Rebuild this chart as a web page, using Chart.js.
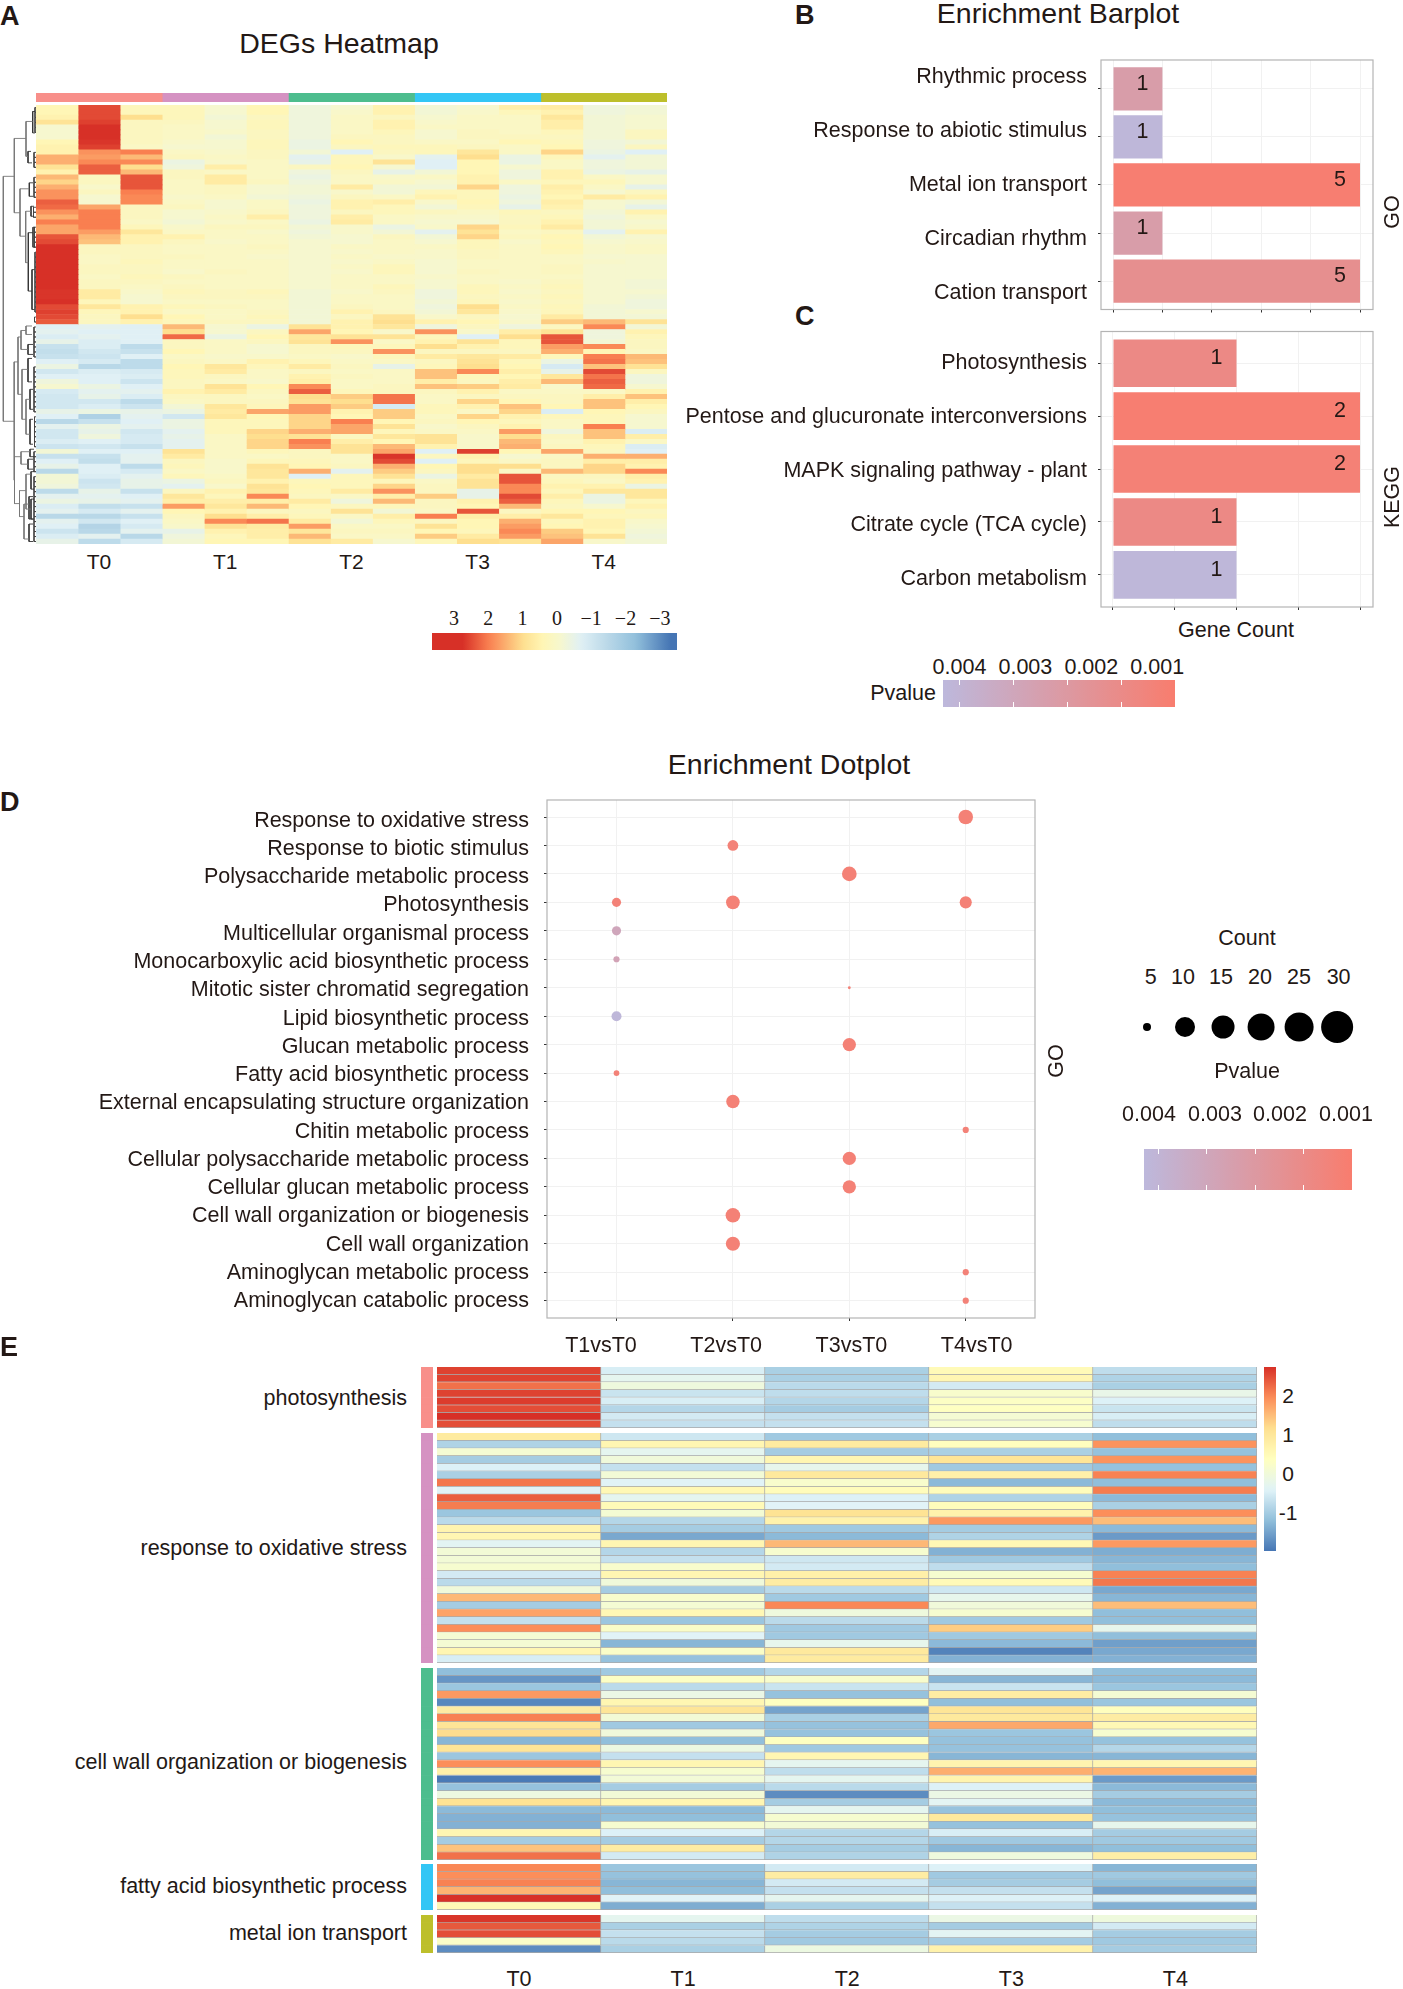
<!DOCTYPE html>
<html>
<head>
<meta charset="utf-8">
<title>DEGs figure</title>
<script src="https://cdn.jsdelivr.net/npm/chart.js@4/dist/chart.umd.min.js"></script>
<style>
html, body { margin: 0; padding: 0; background: #fff; }
#page { position: relative; width: 1403px; height: 1989px; overflow: hidden; }
#page canvas { position: absolute; }
.txt { position: absolute; white-space: nowrap; color: #231815; font-family: "Liberation Sans", sans-serif; }
</style>
</head>
<body>
<div id="page"></div>
<script>
// Panel A: 15 samples, z score per row
const heatTimes = ['T0', 'T1', 'T2', 'T3', 'T4'];
const heatA = [
[.4,2.5,.3,.3,-.1,.4,-.3,-.1,.5,-.2,-.1,.6,.7,-.3,-.2],
[.4,2.5,.3,.3,-.1,.4,-.3,0,.5,-.2,0,.3,.5,-.3,-.2],
[.5,2.5,1,.3,-.2,.2,-.3,.1,.2,-.1,.1,.1,.8,-.2,-.1],
[.9,2.6,.2,.2,-.1,.3,-.3,.1,.5,0,.1,.1,.6,-.2,-.1],
[-.1,2.75,.2,.1,-.1,.3,-.3,.1,.5,.1,.1,.1,.6,-.2,-.1],
[-.1,2.75,.2,.1,0,.2,-.3,.1,.3,-.1,.2,.1,.3,-.2,.2],
[-.1,2.75,.2,.1,-.2,.2,-.3,.2,.2,-.1,.2,.2,.2,-.2,.2],
[.4,2.7,.2,0,-.1,.3,-.4,.4,.2,.1,.1,.4,.3,-.3,-.2],
[.5,2.6,.1,-.1,-.1,.3,-.4,.2,.3,.3,.2,.1,.4,-.3,.2],
[.5,1.8,2,.1,0,.2,-.2,-.7,.2,.3,.8,.1,1.1,-.4,-.7],
[1.5,1.7,1.4,.2,.1,.2,-.6,.3,0,-.6,1,-.4,.3,-.6,-.2],
[1.5,1.9,1.9,-.4,0,.1,-.5,.3,.9,-.7,.4,-.4,.1,-.3,-.2],
[.9,2.3,1,-.3,.6,.1,.2,.4,-.1,-.7,.4,-.1,.1,-.3,-.2],
[.5,2.3,1.4,.2,.1,.1,-.3,.2,-.5,-.2,.4,-.3,.5,-.4,-.5],
[1.4,.2,2.4,.2,.7,.1,-.4,.1,0,.1,.5,-.3,.5,.1,-.1],
[1.1,.2,2.4,.1,.7,.2,-.3,.1,.1,-.1,.5,.1,.3,.3,-.1],
[1.5,0,2.4,.1,.2,-.1,-.2,.7,-.2,-.2,1.1,-.3,.6,.1,-.5],
[1.8,.2,2,.1,.2,-.1,-.2,0,-.2,.3,.3,-.3,.5,-.1,.2],
[1.8,-.1,1.9,0,.1,-.2,-.3,.2,.1,.5,.3,-.4,.4,.7,.5],
[2.3,-.1,1.9,.1,-.1,.1,-.4,.5,.6,0,.4,-.3,.6,-.1,-.2],
[2.2,1.6,.2,.2,-.1,.1,-.3,.5,.3,-.2,.3,-.5,.5,-.1,-.5],
[1.8,2,.2,-.1,0,.2,-.3,.2,.3,.2,.1,.3,.2,-.2,.5],
[1.5,2,.2,-.1,.1,.6,-.3,.6,.1,0,0,.2,.3,-.3,.1],
[2,2,.1,-.2,0,.1,-.4,.7,.1,-.1,-.1,.2,.5,-.2,-.1],
[1.6,2,.3,0,.2,.2,-.2,0,-.4,0,1.1,.3,.7,-.2,0],
[1.6,1.7,.8,.1,.1,0,-.3,0,-.2,-.6,.9,.1,.2,-.6,.5],
[2.4,1.4,.5,.5,.1,.1,-.2,-.1,.2,-.2,1.1,.2,.4,-.2,-.1],
[2.5,1.3,.5,.2,0,.1,-.1,-.1,.1,-.1,.3,0,.3,-.1,0],
[2.75,.2,.2,.1,.1,.2,-.1,.1,.1,.1,.3,.1,.4,0,.1],
[2.75,.2,.2,.1,.1,.1,-.1,0,.1,0,.2,.1,.3,0,.1],
[2.75,.1,.2,.2,.1,0,-.1,.1,0,0,.2,.1,.1,-.1,-.1],
[2.75,.1,.3,.1,.1,.1,-.1,0,.1,-.1,.1,.1,.1,0,-.1],
[2.75,.2,.2,.1,.1,.1,-.1,.1,.3,-.1,.1,.1,.2,-.1,-.1],
[2.75,.2,.2,0,.2,.1,-.1,0,.3,-.1,.2,.1,.2,-.1,-.1],
[2.75,.1,.3,.2,.1,.1,-.1,.1,.1,0,.1,.1,.1,-.1,-.1],
[2.75,.2,.2,.1,.1,.1,-.1,.1,.1,-.1,.1,0,.2,-.1,-.2],
[2.75,.2,.1,.2,.1,.1,-.1,.1,.3,-.1,.3,.1,.3,-.1,-.2],
[2.7,.7,0,.3,.2,.3,-.2,0,.2,-.3,.3,0,.2,-.1,-.1],
[2.7,.7,-.1,.2,.2,.2,-.2,.1,.1,-.3,.2,.1,.3,-.1,-.2],
[2.75,.3,-.1,.1,.1,.1,-.2,.1,.1,-.2,.3,0,.2,-.1,-.3],
[2.5,.8,.5,.3,.2,.1,-.2,.2,.1,-.3,1,.1,.3,-.2,-.3],
[2.6,.3,.5,.1,.1,.2,-.2,.5,.2,-.2,.8,0,.3,-.2,-.1],
[2.5,.2,1,.4,.1,.3,-.2,.2,.9,0,.2,-.1,.7,-.2,-.2],
[2.35,.2,.5,.3,.2,.2,-.2,.5,1,.5,.4,0,1.2,1.4,.9],
[-.7,-.6,-.7,1.4,-.1,-.4,.9,.5,.8,-.3,.2,-.3,.2,1.9,-.2],
[-.6,-.7,-.7,1,-.1,.2,1.6,.4,0,1.8,0,.6,.9,-.3,.5],
[-.8,-.6,-.7,2.2,-.4,.4,.8,.9,.9,.3,-.7,1,2.4,-.3,.3],
[-.5,-.8,-.7,.2,.1,.2,.9,1.8,.1,.5,.9,.3,2.4,-.2,.2],
[-1.2,-.8,-1.4,.2,.1,-.1,.2,.3,.3,1,.5,.3,1.7,1.9,.2],
[-1.3,-1,-1.2,.4,.1,-.1,.2,.2,1.8,.2,.2,.2,1.5,.4,.1],
[-1.2,-1.1,-.7,.1,0,0,.1,0,.3,.7,.8,.7,.3,2,1.4],
[-.7,-.9,-1.4,.2,.1,.5,.3,.1,.1,.2,.9,.3,-.4,2.1,1.3],
[-.4,-1.5,-1.4,.4,.8,.3,.7,.2,-.5,.3,1,.4,-.9,1.3,.9],
[-1,-.8,-.9,.3,.7,.1,.2,.1,.1,1.3,1.9,.6,-.5,2.5,.2],
[-.7,-.7,-.8,.3,.2,.1,.5,.2,.1,1.3,.3,.4,.8,2.1,-.3],
[-.3,-.7,-1.1,.2,.1,0,.6,.1,.1,.6,.2,.6,1.4,2.3,-.3],
[-.1,-.4,-.7,.2,.9,.4,1.9,.1,.2,1.3,1.2,.7,0,2.2,-.1],
[-.9,-.6,-.6,.5,.7,.2,2.3,.3,.2,.2,.5,.1,.1,.1,.5],
[-1,-.5,-.8,.2,.2,.1,1,1.2,2.1,.1,.2,.2,.2,.6,1.3],
[-1,-1,-1.4,.1,.2,.2,.9,1,2.1,.1,1.1,.4,.2,1.3,.6],
[-1,-.8,-1.1,-.2,.8,.3,1.7,1.2,-.9,.3,.5,1.3,.4,1.3,.4],
[-.5,-.4,-.5,-.4,.7,1.6,1.7,.5,1.2,.3,.1,1.1,-.8,.4,.2],
[-.7,-1.7,-.6,-1,.8,.4,1.1,.4,1.2,.1,1.1,.5,.3,.3,-.1],
[-1.5,-1.2,-.7,-.4,.3,.3,1.1,2,.4,.2,.4,.3,.1,.3,-.1],
[-.6,-.4,-.6,-.4,.3,.3,1.1,1.6,.9,0,.2,.5,.1,2,-.1],
[-1,-.5,-1,-.6,.3,1.1,1.5,1.6,.3,.1,.1,1.7,-.3,1.3,-.8],
[-1,-.3,-.9,-.5,.1,1,.9,.2,.8,.9,0,1,.2,1.3,.6],
[-.8,-.7,-.9,-.6,.1,1.1,2,.6,.4,.9,0,1.4,.1,.5,.1],
[-1.1,-1,-1.2,-.6,.1,1.1,1.8,.9,1.4,.5,0,1.5,.2,.3,-.8],
[-.2,-.7,-.7,.9,.1,.3,.2,.9,1.6,-.7,2.6,.4,1.6,.2,-.7],
[-1.2,-1.2,-.6,.7,.1,.1,.2,.1,2.7,.2,.5,-.1,.1,1.5,1.5],
[-.7,-1.3,-.6,.2,0,.3,.3,.1,2.5,-.7,.3,.1,.2,.6,.6],
[-.5,-.7,-1.4,.3,0,.9,.4,.2,1.5,.4,1,1,.2,1.1,.5],
[-1.5,-.7,-.9,.1,0,.8,1.5,-.6,1.2,.2,1,.1,1.4,1.1,1.9],
[-.2,-.8,-.6,.3,.1,.8,-.7,.3,.9,-.4,.7,2.4,.2,.2,.6],
[-.2,-1.1,-.5,-.4,.2,.5,.3,.3,.3,.1,.9,2.4,.3,.1,.5],
[-.3,-1,-.5,-.6,0,.9,.4,.3,1.1,.2,.9,1.9,.5,.5,-.4],
[-1.4,-.5,-1.2,.2,.5,.8,.3,.7,1.8,.2,-.5,1.9,.3,.8,.8],
[-.6,-.6,-.7,.8,.3,1.9,.2,.1,.6,1.2,-.5,2.5,.6,-.4,.8],
[-.4,-.5,-.6,.6,.6,.6,.7,-.3,1.4,.2,.5,2.3,.3,-.4,.3],
[-.8,-1.3,-1.2,1.7,.8,1.4,.4,.2,.3,.2,.4,1.4,.2,-.1,.5],
[-.6,-.9,-.6,.4,.5,.2,.2,.9,-.2,.1,2.4,.2,.4,.4,.2],
[-1.5,-1.5,-1.2,.2,1,.6,.3,.1,.6,2,.6,.6,.8,.3,.3],
[-.6,-1,-.7,.1,1.9,2.1,.7,-.2,.3,.2,.4,1.5,.3,.5,0],
[-.7,-1.6,-.9,0,.9,.7,1.7,.1,.1,.9,.4,1.7,.4,.5,-.1],
[-1.1,-1.5,-.6,-.5,.5,.6,.8,.2,.2,.4,.3,1.9,1.2,.4,-.2],
[-.8,-.6,-1.5,-.3,.3,.6,1.4,.1,.1,1.2,.7,1.7,1.3,.9,-.3],
[-.5,-1.4,-.9,-.2,.4,.4,.9,.7,-.1,.3,1,.9,1.6,0,-.2]
];
// tree joins: height, row a, row b, child height a, child height b
const dendroMerges = [
[3.3,14.3,63.4,14.3,14],[14.3,6.7,21.6,26,20],[26,3.3,10.3,32.7,28],[32.7,1.3,5.6,35,35],
[28,9.3,11.6,31,32],[20,16.8,26.3,29.3,25.7],[29.3,15.6,18.3,33,33],[25.7,21.3,31.6,31,28.3],
[31,20.3,22.3,34,34],[28.3,25.6,37.3,33,32],[33,24.5,28.5,35,35],[32,33,41,34.5,34.5],
[14,51.5,75.2,18,14.5],[18,46.5,58,21,22],[21,45.2,49,26,28],[26,44.3,46,32,32],[28,48,50,33,33],
[22,53,63,28,26],[28,50.8,55.5,32,32],[26,59,66,30,30],[30,57,61,33,33],[30,63,68,33,33],
[14.5,70.5,79.9,21,19.5],[21,69.5,72,30,28],[30,69,70.5,34,34],[28,71,73,33,33],
[19.5,77.3,82.5,26,24],[26,74,81,31,31],[24,80,87,29,29],[31,73.5,77,34,34],[31,79,83,34,34],
[29,78.5,83,33,33],[29,84,87.5,33,33]
];
// leaf clusters: height, first row, last row
const dendroLeaves = [
[35,0,6],[34,9,13],[34,14,19],[33.5,20,23],[34.5,24,29],[35,29,42],[34.5,42,44],[34,44,51],
[34,52,62],[34.5,62,69],[34,69,74],[34,74,88]
];
const scaleATicks = ['3', '2', '1', '0', '−1', '−2', '−3'];

// Panels B and C
const goTerms = ['Rhythmic process', 'Response to abiotic stimulus', 'Metal ion transport', 'Circadian rhythm', 'Cation transport'];
const goCounts = [1, 1, 5, 1, 5];
const goPvalues = [.0023, .0042, .0001, .0023, .0013];
const keggTerms = ['Photosynthesis', 'Pentose and glucuronate interconversions', 'MAPK signaling pathway - plant', 'Citrate cycle (TCA cycle)', 'Carbon metabolism'];
const keggCounts = [1, 2, 2, 1, 1];
const keggPvalues = [.0009, .0001, .0003, .0009, .0042];
const pvalueTicks = ['0.004', '0.003', '0.002', '0.001'];

// Panel D
const dotTerms = ['Response to oxidative stress', 'Response to biotic stimulus', 'Polysaccharide metabolic process', 'Photosynthesis',
    'Multicellular organismal process', 'Monocarboxylic acid biosynthetic process', 'Mitotic sister chromatid segregation',
    'Lipid biosynthetic process', 'Glucan metabolic process', 'Fatty acid biosynthetic process', 'External encapsulating structure organization',
    'Chitin metabolic process', 'Cellular polysaccharide metabolic process', 'Cellular glucan metabolic process',
    'Cell wall organization or biogenesis', 'Cell wall organization', 'Aminoglycan metabolic process', 'Aminoglycan catabolic process'];
const dotGroups = ['T1vsT0', 'T2vsT0', 'T3vsT0', 'T4vsT0'];
const dotTermIdx =  [0, 1, 2, 3, 3, 3, 4, 5, 6, 7, 8, 9, 10, 11, 12, 13, 14, 15, 16, 17];
const dotGroupIdx = [3, 1, 2, 0, 1, 3, 0, 0, 2, 0, 2, 0, 1, 3, 2, 2, 1, 1, 3, 3];
const dotCounts =   [30, 21, 30, 17, 28, 24, 17, 10, 2, 19, 27, 9, 27, 10, 27, 27, 30, 29, 10, 10];
const dotPvalues =  [.0003, .0004, .0003, .0004, .0003, .0003, .003, .0028, .0004, .0042, .0003, .0004, .0003, .0004, .0003, .0003, .0003, .0003, .0004, .0004];
const countLegend = [5, 10, 15, 20, 25, 30];

// Panel E, one table per term group
const termGroups = ['photosynthesis', 'response to oxidative stress', 'cell wall organization or biogenesis', 'fatty acid biosynthetic process', 'metal ion transport'];
const photosynthesisRows = [
[2.6,-.5,-.95,.5,-.75],[2.6,-.3,-.95,.6,-.9],[2.2,-.05,-.8,-.55,-.95],[2.6,-.65,-.75,.2,-.2],
[2.65,-.5,-.85,.3,-.45],[2.5,-.85,-1,.35,-.65],[2.75,-.55,-.7,.1,-.5],[2.5,-.7,-.7,.15,-.75]
];
const oxidativeRows = [
[.9,-.6,-1.05,-.95,-1.2],[-.9,.6,.9,.4,1.9],[.1,-.3,-1,-.95,-1.15],[-1,0,.6,1.05,1.9],[-.45,-.7,-.25,-1.05,-1.15],
[-.95,.05,.95,.75,2.05],[2.15,-.4,.2,-1.25,-1.2],[-.4,.55,.45,.45,2.1],[2.35,-.3,-.45,-.9,-1.25],[2.1,.5,-.4,.45,-.95],
[-1.1,.1,1.1,.7,1.95],[-.8,-.85,.7,1.85,1.5],[.65,-1,-1.05,-1,-1.25],[.6,-1.45,-1.25,-.9,-1.6],[-.35,.6,1.55,.55,1.85],
[.05,-.85,.15,-1.35,-1.4],[.05,-.7,-.6,-1.05,-1.3],[.15,.2,-.55,-.75,-1.2],[-.55,.6,.75,.15,2.05],[-.8,0,.85,.5,2.15],
[0,-1,-.8,-.6,-1.45],[1.55,.2,-1.05,-.25,-1.3],[-1,.1,2,0,1.5],[1.75,.55,-.05,.15,-1.2],[-.7,-1.1,-.8,-1.05,-1.2],
[1.95,.25,-1.05,1.35,-.25],[.1,-.4,-1.05,-1.05,-1.2],[.1,-1.3,-.25,-1.25,-1.55],[.6,.25,.95,-1.85,-1.45],[-.5,-1.15,.9,-1.35,-1.35]
];
const cellWallRows = [
[-1.2,-1.05,-.85,-.35,-1.2],[-1.65,.3,.2,-1.3,-1.25],[-1.1,-.8,-.65,-.65,-1.1],[1.85,-.15,-1.15,.85,.1],[-1.8,.6,.35,-1.2,-1.1],
[.85,1.05,-1.5,1.05,.4],[2.05,.05,-.95,.95,.85],[1.05,-1.05,-1.15,1.7,.55],[1.2,0,-1.15,-1.1,.15],[-1.3,-1.2,.35,-1.15,-1.15],
[1.05,-.1,-1.05,-1.15,-.85],[-1.1,-.7,.6,-1.3,-1.3],[1.95,.6,-.3,.65,.6],[.75,.15,-.75,1.65,1.6],[-1.95,.05,-.3,.65,-1.6],
[-1.15,-1,-.8,-.45,-1.25],[-.1,.05,-1.75,-.15,-1],[1.1,.6,-1,-.35,-1.25],[-1.25,-1.25,-.3,-1.15,-1.2],[-1.35,-1.2,.15,.95,-1.15],
[-1.35,.15,.05,-1.15,-.25],[.6,-.45,-.85,-.5,-1],[-1,-1,-.85,-1.05,-1.05],[1.45,.85,-1,-1.3,-1.2],[2.2,-.55,-.9,-.05,.8]
];
const fattyAcidRows = [
[2,-1.1,-.55,-.45,-1.3],[1.95,-1.15,.85,-1.05,-1.05],[2.05,-1.3,-.55,-1,-1.2],[1.6,-1.2,-.7,-.7,-1.5],[2.75,-.4,-.3,-.45,-.45],[.55,-1.4,-.95,-.7,-1.35]
];
const metalIonRows = [
[2.7,-.3,-.75,-.15,-.05],[2.4,-.95,-.9,-1,-.55],[2.5,-.7,-1,-.35,-1],[.25,-.8,-1.05,-1,-1.05],[-1.75,-.95,-.1,.7,-1]
];
const scaleETicks = ['2', '1', '0', '-1'];

// Look
const TEXT = '#231815';
const groupColors = ['#f88f8a', '#d592c2', '#4dbd8e', '#33c6f5', '#bdbf2b'];
const stopsA = [[2.75, '#d73027'], [2, '#f97f50'], [1, '#fedf8f'], [.4, '#fff6b6'], [-.1, '#f6f7cf'], [-.7, '#e0f0f5'], [-2.3, '#91bfdb'], [-3.3, '#4575b4']];
const stopsE = [[2.75, '#d73027'], [1.96, '#fc8d59'], [1.17, '#fee090'], [.375, '#ffffbf'], [-.42, '#e0f3f8'], [-1.2, '#91bfdb'], [-2, '#4575b4']];
const stopsP = [[.0043, '#bdb8dc'], [0, '#f87d6e']];

Chart.defaults.animation = false;
Chart.defaults.responsive = false;
Chart.defaults.layout.autoPadding = false;
Chart.defaults.font.family = '"Liberation Sans", sans-serif';
Chart.defaults.plugins.legend.display = false;
Chart.defaults.plugins.tooltip.enabled = false;

const page = document.getElementById('page');

function rgb(hex) {
    return [1, 3, 5].map(i => parseInt(hex.substr(i, 2), 16));
}

// stops go from high value to low value
function colorOf(stops, v) {
    if (v >= stops[0][0]) return stops[0][1];
    for (let i = 1; i < stops.length; i++) {
        if (v >= stops[i][0]) {
            const a = rgb(stops[i - 1][1]), b = rgb(stops[i][1]);
            const t = (stops[i - 1][0] - v) / (stops[i - 1][0] - stops[i][0]);
            return 'rgb(' + a.map((c, k) => Math.round(c + (b[k] - c) * t)).join(',') + ')';
        }
    }
    return stops[stops.length - 1][1];
}

function addCanvas(left, top, width, height) {
    const c = document.createElement('canvas');
    c.width = width;
    c.height = height;
    c.style.left = left + 'px';
    c.style.top = top + 'px';
    c.style.width = width + 'px';
    c.style.height = height + 'px';
    page.appendChild(c);
    return c;
}

function addText(str, x, y, o) {
    o = o || {};
    const d = document.createElement('div');
    d.className = 'txt';
    d.textContent = str;
    d.style.left = x + 'px';
    d.style.top = y + 'px';
    d.style.fontSize = (o.size || 21.5) + 'px';
    if (o.bold) d.style.fontWeight = 'bold';
    if (o.family) d.style.fontFamily = o.family;
    const tx = o.align === 'left' ? '0' : o.align === 'right' ? '-100%' : '-50%';
    d.style.transform = 'translate(' + tx + ',-50%)' + (o.rotate ? ' rotate(' + o.rotate + 'deg)' : '');
    page.appendChild(d);
}

// every cell is one stacked bar piece, coloured from its value
function heatChart(left, top, width, height, rows, colorFn, border, widths) {
    const nCols = rows[0].length;
    const total = widths ? widths.reduce((a, b) => a + b, 0) : nCols;
    const datasets = [];
    for (let c = 0; c < nCols; c++) {
        datasets.push({
            data: rows.map(() => widths ? widths[c] : 1),
            backgroundColor: rows.map(r => colorFn(r[c])),
            borderColor: border || 'transparent',
            borderWidth: border ? { top: 0, left: 0, right: 1, bottom: 1 } : 0,
            borderSkipped: false,
            barPercentage: 1,
            categoryPercentage: 1
        });
    }
    return new Chart(addCanvas(left, top, width, height), {
        type: 'bar',
        data: { labels: rows.map((r, i) => i), datasets: datasets },
        options: {
            indexAxis: 'y',
            scales: {
                x: { type: 'linear', stacked: true, min: 0, max: total, display: false },
                y: { stacked: true, display: false }
            }
        }
    });
}

// gradient strip used by every colour key
function colorKey(left, top, width, height, stops, lo, hi, horizontal, tickValues) {
    const fill = ctx => {
        const area = ctx.chart.chartArea;
        if (!area) return null;
        const g = horizontal
            ? ctx.chart.ctx.createLinearGradient(area.left, 0, area.right, 0)
            : ctx.chart.ctx.createLinearGradient(0, area.top, 0, area.bottom);
        const n = 40;
        for (let i = 0; i <= n; i++) {
            g.addColorStop(i / n, colorOf(stops, hi - (hi - lo) * i / n));
        }
        return g;
    };
    const valueAxis = {
        type: 'linear', min: lo, max: hi, reverse: horizontal,
        ticks: { display: false },
        border: { display: false, dash: [5, height - 10] },
        grid: { display: !!tickValues, color: '#fff', lineWidth: 1, drawTicks: false, z: 1 },
        afterBuildTicks: s => { s.ticks = (tickValues || []).map(v => ({ value: v })); }
    };
    const crossAxis = { display: false };
    return new Chart(addCanvas(left, top, width, height), {
        type: 'bar',
        data: { labels: ['key'], datasets: [{ data: [[lo, hi]], backgroundColor: fill, barPercentage: 1, categoryPercentage: 1 }] },
        options: {
            indexAxis: horizontal ? 'y' : 'x',
            scales: horizontal ? { x: valueAxis, y: crossAxis } : { y: valueAxis, x: crossAxis }
        }
    });
}

const framePlugin = {
    id: 'frame',
    afterDraw(chart) {
        const a = chart.chartArea, ctx = chart.ctx;
        ctx.save();
        ctx.strokeStyle = '#b4b4b4';
        ctx.lineWidth = 1.2;
        ctx.strokeRect(a.left, a.top, a.right - a.left, a.bottom - a.top);
        ctx.restore();
    }
};

// text on top of each bar, a bit above the middle and left of the end
const barValuePlugin = {
    id: 'barValues',
    afterDatasetsDraw(chart) {
        const ctx = chart.ctx;
        ctx.save();
        ctx.fillStyle = TEXT;
        ctx.font = '21.5px "Liberation Sans"';
        ctx.textAlign = 'center';
        ctx.textBaseline = 'middle';
        chart.getDatasetMeta(0).data.forEach((bar, i) => {
            ctx.fillText(String(chart.data.datasets[0].data[i].x), bar.x - 20, bar.y - 5);
        });
        ctx.restore();
    }
};

// second axis: the figure places its labels on their own spacing, not on the marks
function labelAxisY(labels, min, max, width, pad) {
    return {
        axis: 'y', type: 'linear', position: 'left', reverse: true, min: min, max: max, weight: 1, offset: false,
        grid: { display: false, drawTicks: false, offset: false },
        border: { display: false },
        afterBuildTicks: s => { s.ticks = labels.map((l, i) => ({ value: i })); },
        afterFit: s => { s.width = width; s.paddingTop = 0; s.paddingBottom = 0; },
        ticks: { padding: pad, autoSkip: false, maxRotation: 0, color: TEXT, font: { size: 21.5 }, callback: v => labels[v] }
    };
}

function markAxis(axis, min, max, tickValues, reverse) {
    const s = {
        type: 'linear', min: min, max: max, reverse: !!reverse, offset: false,
        ticks: { display: false },
        border: { display: false },
        grid: { color: '#f1f1f1', tickLength: 3, tickColor: '#333', tickWidth: 1, offset: false },
        afterBuildTicks: sc => { sc.ticks = tickValues.map(v => ({ value: v })); }
    };
    s.afterFit = sc => { if (axis === 'x') sc.height = 3; else sc.width = 3; };
    return s;
}

function barPanel(left, top, width, height, terms, counts, pvalues, cfg) {
    new Chart(addCanvas(left, top, width, height), {
        type: 'bar',
        data: {
            datasets: [{
                data: counts.map((c, i) => ({ x: c, y: i })),
                backgroundColor: pvalues.map(p => colorOf(stopsP, p)),
                barPercentage: .9,
                categoryPercentage: 1
            }]
        },
        options: {
            indexAxis: 'y',
            layout: { padding: cfg.padding },
            scales: {
                x: markAxis('x', cfg.xMin, cfg.xMax, cfg.xTicks),
                y: markAxis('y', cfg.yMin, cfg.yMax, terms.map((t, i) => i), true),
                labelsY: labelAxisY(terms, cfg.labMin, cfg.labMax, cfg.labWidth, 11)
            }
        },
        plugins: [framePlugin, barValuePlugin]
    });
}

// ---- Panel A
addText('A', 0, 15.5, { bold: true, size: 27, align: 'left' });
addText('DEGs Heatmap', 339, 43, { size: 28.5 });
heatChart(36, 93, 631, 9, [[0, 1, 2, 3, 4]], g => groupColors[g], null, [3, 3, 3, 3, 3]);
heatChart(36, 105, 631, 439, heatA, v => colorOf(stopsA, v));

const dendroSets = dendroMerges.map(m => ({
    data: [{ x: m[3], y: m[1] }, { x: m[0], y: m[1] }, { x: m[0], y: m[2] }, { x: m[4], y: m[2] }],
    borderColor: m[0] > 27 ? '#333' : '#777'
}));
dendroLeaves.forEach(l => {
    const pts = [];
    for (let i = l[1]; i < l[2]; i++) {
        pts.push({ x: 36, y: i + .5 }, { x: l[0], y: i + .5 }, { x: l[0], y: i + 1.5 });
    }
    pts.pop();
    dendroSets.push({ data: pts, borderColor: '#444' });
});
new Chart(addCanvas(0, 105, 36, 439), {
    type: 'scatter',
    data: { datasets: dendroSets },
    options: {
        showLine: true,
        elements: { point: { radius: 0 }, line: { borderWidth: .9, tension: 0 } },
        scales: {
            x: { type: 'linear', min: 0, max: 36, display: false },
            y: { type: 'linear', min: 0, max: 88, reverse: true, display: false }
        }
    }
});
heatTimes.forEach((t, i) => addText(t, 36 + 126.2 * i + 63, 562, { size: 21 }));
colorKey(432, 633, 245, 17, stopsA, -3.5, 3.65, true);
scaleATicks.forEach((t, i) => addText(t, 454 + 34.3 * i, 618, { size: 20, family: '"Liberation Serif", serif' }));

// ---- Panels B and C
addText('B', 795, 14.5, { bold: true, size: 27, align: 'left' });
addText('C', 795, 316, { bold: true, size: 27, align: 'left' });
addText('Enrichment Barplot', 1058, 13, { size: 28.5 });
barPanel(700, 50, 680, 270, goTerms, goCounts, goPvalues, {
    padding: { top: 10, right: 7, bottom: 7.5 },
    xMin: -.243, xMax: 5.263, xTicks: [0, 1, 2, 3, 4, 5],
    yMin: -.6, yMax: 4.59,
    labMin: -.31, labMax: 4.3, labWidth: 398
});
barPanel(660, 320, 720, 295, keggTerms, keggCounts, keggPvalues, {
    padding: { top: 11.5, right: 7, bottom: 5 },
    xMin: -.097, xMax: 2.105, xTicks: [0, .5, 1, 1.5, 2],
    yMin: -.6, yMax: 4.608,
    labMin: -.577, labMax: 4.506, labWidth: 438
});
addText('GO', 1392, 212, { rotate: -90 });
addText('KEGG', 1392, 497, { rotate: -90 });
addText('Gene Count', 1236, 630);
colorKey(943, 680, 232, 27, stopsP, 0, .0043, true, [.004, .003, .002, .001]);
addText('Pvalue', 936, 693, { align: 'right' });
pvalueTicks.forEach((t, i) => addText(t, 959.5 + 65.9 * i, 667));

// ---- Panel D
addText('D', 0, 802, { bold: true, size: 27, align: 'left' });
addText('Enrichment Dotplot', 789, 764, { size: 28.5 });
new Chart(addCanvas(0, 790, 1045, 575), {
    type: 'scatter',
    data: {
        datasets: [{
            data: dotCounts.map((c, i) => ({ x: dotGroupIdx[i], y: dotTermIdx[i] })),
            backgroundColor: dotPvalues.map(p => colorOf(stopsP, p)),
            pointRadius: dotCounts.map(c => 1 + c * .21),
            pointBorderWidth: 0
        }]
    },
    options: {
        layout: { padding: { top: 10, right: 10 } },
        scales: {
            x: markAxis('x', -.597, 3.595, dotGroups.map((g, i) => i)),
            y: markAxis('y', -.598, 17.61, dotTerms.map((t, i) => i), true),
            labelsY: labelAxisY(dotTerms, -.732, 17.59, 544, 15),
            labelsX: {
                axis: 'x', type: 'linear', position: 'bottom', min: -.431, max: 3.466, weight: 1,
                grid: { display: false, drawTicks: false },
                border: { display: false },
                afterBuildTicks: s => { s.ticks = dotGroups.map((g, i) => ({ value: i })); },
                afterFit: s => { s.height = 44; s.paddingLeft = 0; s.paddingRight = 0; },
                ticks: { padding: 12, autoSkip: false, maxRotation: 0, color: TEXT, font: { size: 21.5 }, callback: v => dotGroups[v] }
            }
        }
    },
    plugins: [framePlugin]
});
addText('GO', 1056, 1060.6, { rotate: -90 });

addText('Count', 1247, 938);
const countLabelX = [1150.7, 1183, 1221, 1260, 1299, 1338.6];
countLegend.forEach((c, i) => addText(String(c), countLabelX[i], 977));
const legendRadius = [4, 10, 11.5, 13.5, 14.5, 16];
new Chart(addCanvas(1130, 1007, 225, 40), {
    type: 'scatter',
    data: {
        datasets: [{
            data: countLegend.map((c, i) => ({ x: i, y: 0 })),
            backgroundColor: '#000',
            pointRadius: legendRadius,
            pointBorderWidth: 0,
            clip: false
        }]
    },
    options: {
        scales: {
            x: { type: 'linear', min: -.447, max: 5.47, display: false },
            y: { type: 'linear', min: -1, max: 1, display: false }
        }
    }
});
addText('Pvalue', 1247, 1071);
const pvalueLabelX = [1149, 1215, 1280, 1346];
pvalueTicks.forEach((t, i) => addText(t, pvalueLabelX[i], 1114));
colorKey(1144, 1149, 208, 41, stopsP, 0, .0043, true, [.004, .003, .002, .001]);

// ---- Panel E
addText('E', 0, 1347, { bold: true, size: 27, align: 'left' });
const rowTables = [photosynthesisRows, oxidativeRows, cellWallRows, fattyAcidRows, metalIonRows];
const groupTops = [1367, 1433, 1668, 1864, 1915];
const groupLabelY = [1397.5, 1547.5, 1761.5, 1885.5, 1932.5];
rowTables.forEach((rows, g) => {
    const h = Math.round(rows.length * 7.67);
    heatChart(421, groupTops[g], 12, h, rows.map(() => [g]), k => groupColors[k]);
    heatChart(437, groupTops[g], 820, h, rows, v => colorOf(stopsE, v), '#a9a9a9');
    addText(termGroups[g], 407, groupLabelY[g], { align: 'right' });
});
heatTimes.forEach((t, i) => addText(t, 519 + 164.1 * i, 1979));
colorKey(1264, 1367, 12, 184, stopsE, -1.99, 2.75, false);
const scaleEY = [1396, 1435, 1474, 1512.7];
scaleETicks.forEach((t, i) => addText(t, 1288, scaleEY[i], { size: 21 }));
</script>
</body>
</html>
